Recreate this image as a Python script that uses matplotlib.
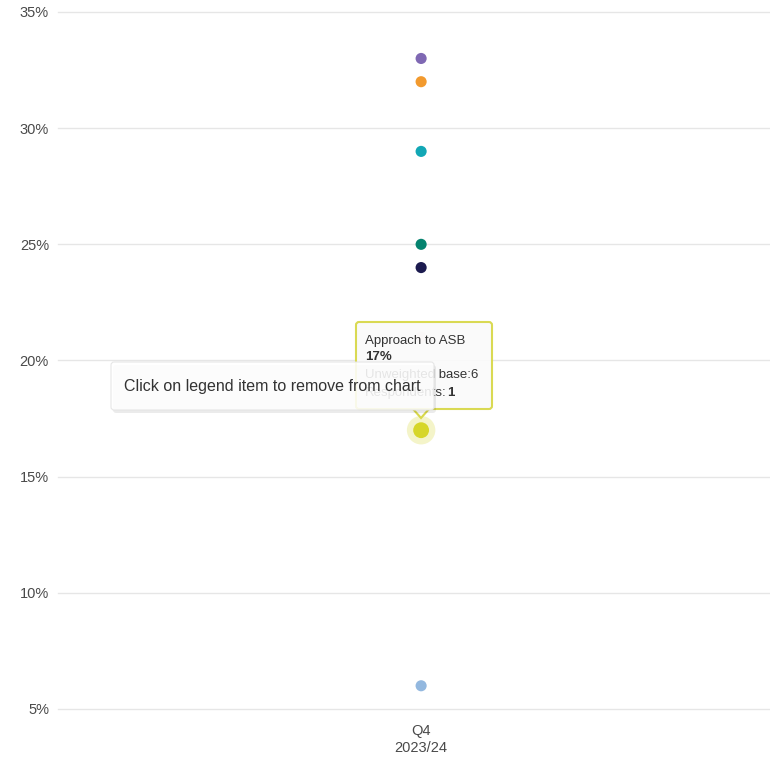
import matplotlib.pyplot as plt
from matplotlib.patches import FancyBboxPatch, Polygon

plt.rcParams['font.family'] = ['Liberation Sans', 'DejaVu Sans']

# data
categories = ["Q4\n2023/24"]
values = [33, 32, 29, 25, 24, 21, 17, 6]
colors = ["#7f68b3", "#f29a2e", "#12a7b5", "#05836f", "#1c1b4f", "#f6d2c4", "#d6d62a", "#93b8df"]
highlight_name = "Approach to ASB"
highlight_value = 17
highlight_base = 6
highlight_resp = 1
y_ticks = [5, 10, 15, 20, 25, 30, 35]

fig = plt.figure(figsize=(7.7, 7.61), dpi=100)
ax = fig.add_axes([58 / 770, 52 / 761, 1 - 58 / 770, 697 / 761])

ax.set_xlim(-0.51, 0.49)
ax.set_ylim(5, 35)
ax.set_yticks(y_ticks)
ax.set_yticklabels([f"{t}%" for t in y_ticks], color="#4a4a4a", fontsize=10.5)
ax.set_xticks([0])
ax.set_xticklabels(categories, color="#4a4a4a", fontsize=10.5, linespacing=1.25)
ax.tick_params(axis="y", length=0, pad=6.5)
ax.tick_params(axis="x", length=0, pad=11)
for s in ax.spines.values():
    s.set_visible(False)
ax.grid(axis="y", color="#e6e6e6", linewidth=1)
for gl in ax.get_ygridlines():
    gl.set_clip_on(False)
ax.set_axisbelow(True)

for v, c in zip(values, colors):
    if v == highlight_value:
        continue
    ax.scatter([0], [v], s=64, color=c, zorder=3, edgecolors="none")

# highlighted point with halo
hc = colors[values.index(highlight_value)]
ax.scatter([0], [highlight_value], s=420, color=hc, alpha=0.25, zorder=3, edgecolors="none")
ax.scatter([0], [highlight_value], s=130, color=hc, zorder=4, edgecolors="none")

# tooltip (pixel coords -> figure fraction)
W, H = 770, 761
def fx(px):
    return px / W
def fy(py):
    return 1 - py / H

renderer = fig.canvas.get_renderer()

def text_pair(x, y, a, b, bold_b=False, size=9):
    t = fig.text(fx(x), fy(y), a, fontsize=size, color="#333333", va="center", zorder=6)
    w = t.get_window_extent(renderer).width
    fig.text(fx(x + w), fy(y), b, fontsize=size, color="#333333", va="center", zorder=6,
             fontweight="bold" if bold_b else "normal")

tip = FancyBboxPatch((fx(356), fy(409)), fx(492) - fx(356), fy(322) - fy(409),
                     boxstyle="round,pad=0,rounding_size=0.004", transform=fig.transFigure,
                     facecolor="#fafafa", edgecolor="#d8d84a", linewidth=1.5, alpha=0.95, zorder=5)
fig.patches.append(tip)
arrow = Polygon([[fx(413), fy(409)], [fx(429), fy(409)], [fx(421), fy(418)]], closed=True,
                transform=fig.transFigure, facecolor="#fafafa", edgecolor="#d8d84a",
                linewidth=1.5, zorder=5)
fig.patches.append(arrow)
fig.text(fx(365), fy(341), highlight_name, fontsize=9.5, color="#333333", va="center", zorder=6)
fig.text(fx(365), fy(357), f"{highlight_value}%", fontsize=9.5, color="#333333", va="center",
         fontweight="bold", zorder=6)
text_pair(365, 375, "Unweighted base:", str(highlight_base), size=9.5)
text_pair(365, 393, "Respondents:", str(highlight_resp), bold_b=True, size=9.5)

# legend hint box
shadow = FancyBboxPatch((fx(113), fy(413)), fx(434) - fx(111), fy(362) - fy(410),
                        boxstyle="round,pad=0,rounding_size=0.004", transform=fig.transFigure,
                        facecolor="#000000", edgecolor="none", alpha=0.08, zorder=7)
fig.patches.append(shadow)
hint = FancyBboxPatch((fx(111), fy(410)), fx(434) - fx(111), fy(362) - fy(410),
                      boxstyle="round,pad=0,rounding_size=0.004", transform=fig.transFigure,
                      facecolor="#ffffff", edgecolor="#e3e3e3", linewidth=0.8, alpha=0.88, zorder=8)
fig.patches.append(hint)
fig.text(fx(124), fy(386), "Click on legend item to remove from chart", fontsize=11.5,
         color="#333333", va="center", zorder=9)

fig.savefig("out.png", dpi=100)
